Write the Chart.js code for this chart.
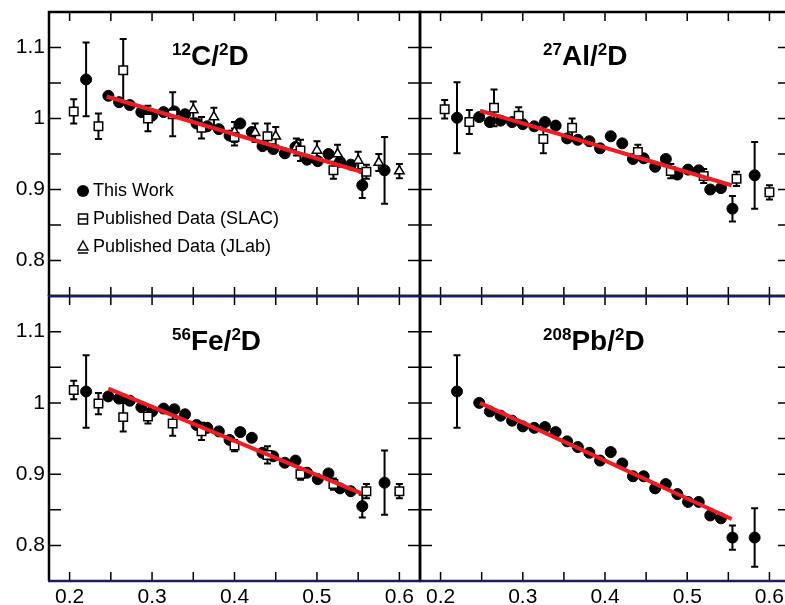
<!DOCTYPE html>
<html>
<head>
<meta charset="utf-8">
<script src="https://cdn.jsdelivr.net/npm/chart.js@4"></script>
<style>
  html, body { margin: 0; background: #fff; }
  #wrap { position: relative; width: 785px; height: 605px; overflow: hidden; }
  #wrap canvas { position: absolute; left: 0; top: 0; }
  .title {
    position: absolute;
    font-family: "Liberation Sans", Arial, Helvetica, sans-serif;
    font-weight: bold;
    font-size: 28px;
    line-height: 28px;
    color: #000;
    white-space: nowrap;
  }
  .title sup { font-size: 17px; line-height: 0; vertical-align: 0; position: relative; top: -10px; }
</style>
</head>
<body>
<div id="wrap">
  <canvas id="ironChart" width="800" height="605"></canvas>
  <canvas id="leadChart" width="800" height="605"></canvas>
  <canvas id="carbonChart" width="800" height="605"></canvas>
  <canvas id="alChart" width="800" height="605"></canvas>
  <div class="title" style="left:172px;top:42px"><sup>12</sup>C/<sup>2</sup>D</div>
  <div class="title" style="left:543px;top:42px"><sup>27</sup>Al/<sup>2</sup>D</div>
  <div class="title" style="left:172px;top:327px"><sup>56</sup>Fe/<sup>2</sup>D</div>
  <div class="title" style="left:543px;top:327px"><sup>208</sup>Pb/<sup>2</sup>D</div>
</div>
<script>
// axis ticks
const xTicks = [0.2, 0.3, 0.4, 0.5, 0.6];
const yTicks = [0.8, 0.9, 1, 1.1];
const xMarks = [0.2, 0.25, 0.3, 0.35, 0.4, 0.45, 0.5, 0.55, 0.6];
const yMarks = [0.8, 0.85, 0.9, 0.95, 1, 1.05, 1.1];

// this work, same x bins for all nuclei
const workX = [0.220, 0.247, 0.260, 0.273, 0.287, 0.300, 0.314, 0.327, 0.340, 0.354, 0.367, 0.381, 0.394,
               0.407, 0.421, 0.434, 0.447, 0.461, 0.474, 0.488, 0.501, 0.514, 0.528, 0.541, 0.555, 0.582];
const carbonWork = [1.055, 1.032, 1.023, 1.019, 1.009, 1.004, 1.009, 1.010, 1.006, 0.993, 0.989, 0.985, 0.976,
                    0.993, 0.981, 0.961, 0.957, 0.951, 0.960, 0.942, 0.940, 0.950, 0.939, 0.935, 0.906, 0.927];
const carbonWorkErr = [0.052, 0, 0, 0, 0, 0, 0, 0, 0, 0, 0, 0, 0, 0, 0, 0, 0, 0, 0, 0, 0, 0, 0, 0, 0.018, 0.047];
const alWork = [1.001, 1.002, 0.995, 0.997, 0.995, 0.992, 0.989, 0.995, 0.990, 0.972, 0.970, 0.968, 0.958,
                0.975, 0.965, 0.943, 0.944, 0.932, 0.943, 0.921, 0.928, 0.927, 0.900, 0.902, 0.873, 0.920];
const alWorkErr = [0.050, 0, 0, 0, 0, 0, 0, 0, 0, 0, 0, 0, 0, 0, 0, 0, 0, 0, 0, 0, 0, 0, 0, 0, 0.018, 0.047];
const ironWork = [1.016, 1.009, 1.006, 1.003, 0.994, 0.988, 0.992, 0.991, 0.984, 0.969, 0.965, 0.960, 0.948,
                  0.959, 0.951, 0.930, 0.925, 0.916, 0.919, 0.902, 0.893, 0.901, 0.880, 0.876, 0.855, 0.888];
const ironWorkErr = [0.051, 0, 0, 0, 0, 0, 0, 0, 0, 0, 0, 0, 0, 0, 0, 0, 0, 0, 0, 0, 0, 0, 0, 0, 0.016, 0.045];
const leadWork = [1.016, 1.000, 0.988, 0.982, 0.975, 0.967, 0.965, 0.966, 0.959, 0.946, 0.938, 0.930, 0.919,
                  0.931, 0.915, 0.897, 0.897, 0.880, 0.886, 0.872, 0.861, 0.861, 0.842, 0.838, 0.811, 0.811];
const leadWorkErr = [0.051, 0, 0, 0, 0, 0, 0, 0, 0, 0, 0, 0, 0, 0, 0, 0, 0, 0, 0, 0, 0, 0, 0, 0, 0.017, 0.041];

// published SLAC
const slacX = [0.205, 0.235, 0.265, 0.295, 0.325, 0.36, 0.40, 0.44, 0.48, 0.52, 0.56, 0.60];
const carbonSlac = [1.010, 0.989, 1.068, 1.000, 1.006, 0.987, 0.974, 0.975, 0.955, 0.927, 0.925, null];
const carbonSlacErr = [0.017, 0.018, 0.044, 0.018, 0.031, 0.015, 0.012, 0.018, 0.015, 0.012, 0.010, 0];
const alSlac = [1.013, 0.995, 1.015, 1.004, 0.971, 0.987, null, 0.953, 0.926, 0.919, 0.915, 0.896];
const alSlacErr = [0.013, 0.017, 0.026, 0.012, 0.020, 0.013, 0, 0.010, 0.010, 0.010, 0.010, 0.010];
const ironSlac = [1.018, 0.999, 0.980, 0.981, 0.971, 0.960, 0.940, 0.927, 0.900, 0.886, 0.876, 0.876];
const ironSlacErr = [0.013, 0.015, 0.020, 0.010, 0.017, 0.012, 0.008, 0.012, 0.008, 0.008, 0.010, 0.010];

// published JLab (carbon only)
const jlabX = [0.35, 0.375, 0.40, 0.425, 0.45, 0.475, 0.50, 0.525, 0.55, 0.575, 0.60];
const carbonJlab = [1.012, 1.002, 0.981, 0.980, 0.975, 0.960, 0.955, 0.950, 0.941, 0.938, 0.926];
const carbonJlabErr = [0.012, 0.013, 0.014, 0.013, 0.013, 0.012, 0.013, 0.013, 0.012, 0.012, 0.010];

// linear fits
const carbonFitX = [0.245, 0.554], carbonFitY = [1.031, 0.925];
const alFitX = [0.248, 0.554], alFitY = [1.011, 0.906];
const ironFitX = [0.247, 0.554], ironFitY = [1.020, 0.873];
const leadFitX = [0.248, 0.554], leadFitY = [1.000, 0.837];

const RED = '#ee1c24';
const NAVY = '#1b1b5e';

Chart.defaults.font.family = '"Liberation Sans", Arial, Helvetica, sans-serif';
Chart.defaults.color = '#000';

function pts(xs, ys) {
    return xs.map((x, i) => ({x: x, y: ys[i]}));
}

// vertical error bars with caps, drawn under the markers
const errorBars = {
    id: 'errorBars',
    beforeDatasetsDraw(chart) {
        const {ctx, chartArea: a, scales: {x, y}} = chart;
        ctx.save();
        ctx.beginPath();
        ctx.rect(a.left, a.top, a.right - a.left, a.bottom - a.top);
        ctx.clip();
        ctx.strokeStyle = '#000';
        ctx.lineWidth = 2;
        chart.data.datasets.forEach(ds => {
            if (!ds.errors) return;
            ds.data.forEach((p, i) => {
                const e = ds.errors[i];
                if (p.y == null || !e) return;
                const px = x.getPixelForValue(p.x);
                const top = y.getPixelForValue(p.y + e);
                const bot = y.getPixelForValue(p.y - e);
                ctx.beginPath();
                ctx.moveTo(px, top); ctx.lineTo(px, bot);
                ctx.moveTo(px - 3.5, top); ctx.lineTo(px + 3.5, top);
                ctx.moveTo(px - 3.5, bot); ctx.lineTo(px + 3.5, bot);
                ctx.stroke();
            });
        });
        ctx.restore();
    }
};

// frame with inward ticks on all four sides
const frame = {
    id: 'frame',
    afterDraw(chart) {
        const {ctx, chartArea: a, scales: {x, y}} = chart;
        ctx.save();
        ctx.strokeStyle = '#000';
        ctx.lineWidth = 1.5;
        ctx.beginPath();
        xMarks.forEach(v => {
            const px = x.getPixelForValue(v);
            ctx.moveTo(px, a.top); ctx.lineTo(px, a.top + 9);
            ctx.moveTo(px, a.bottom); ctx.lineTo(px, a.bottom - 9);
        });
        yMarks.forEach(v => {
            const py = y.getPixelForValue(v);
            ctx.moveTo(a.left, py); ctx.lineTo(a.left + 12, py);
            ctx.moveTo(a.right, py); ctx.lineTo(a.right - 12, py);
        });
        ctx.stroke();
        ctx.lineWidth = 2.5;
        ctx.beginPath();
        ctx.moveTo(a.left, a.bottom);
        ctx.lineTo(a.left, a.top);
        ctx.lineTo(a.right, a.top);
        ctx.lineTo(a.right, a.bottom);
        ctx.stroke();
        ctx.strokeStyle = NAVY;
        ctx.beginPath();
        ctx.moveTo(a.left - 1, a.bottom);
        ctx.lineTo(a.right + 1, a.bottom);
        ctx.stroke();
        ctx.restore();
    }
};

// legend inside the carbon panel
const legendBox = {
    id: 'legendBox',
    afterDraw(chart) {
        const {ctx} = chart;
        const mx = 83, tx = 93;
        const rows = [191, 219, 247];
        ctx.save();
        ctx.fillStyle = '#000';
        ctx.strokeStyle = '#000';
        ctx.lineWidth = 1.5;
        // circle
        ctx.beginPath();
        ctx.arc(mx, rows[0], 6, 0, Math.PI * 2);
        ctx.fill();
        // square with bar
        ctx.fillStyle = '#fff';
        ctx.fillRect(mx - 4.5, rows[1] - 5, 9, 10);
        ctx.strokeRect(mx - 4.5, rows[1] - 5, 9, 10);
        ctx.beginPath();
        ctx.moveTo(mx - 4.5, rows[1]); ctx.lineTo(mx + 4.5, rows[1]);
        ctx.stroke();
        // triangle with bar
        ctx.beginPath();
        ctx.moveTo(mx, rows[2] - 6);
        ctx.lineTo(mx + 5, rows[2] + 3);
        ctx.lineTo(mx - 5, rows[2] + 3);
        ctx.closePath();
        ctx.fill();
        ctx.stroke();
        ctx.beginPath();
        ctx.moveTo(mx - 5, rows[2] + 6); ctx.lineTo(mx + 5, rows[2] + 6);
        ctx.stroke();
        ctx.fillStyle = '#000';
        ctx.font = '18px "Liberation Sans", Arial, Helvetica, sans-serif';
        ctx.textBaseline = 'middle';
        ctx.fillText('This Work', tx, rows[0]);
        ctx.fillText('Published Data (SLAC)', tx, rows[1]);
        ctx.fillText('Published Data (JLab)', tx, rows[2]);
        ctx.restore();
    }
};

function makePanel(canvasId, p) {
    const isLeft = p.col === 0;
    const isBottom = p.row === 1;
    const datasets = [
        {
            type: 'line',
            data: pts(p.fitX, p.fitY),
            borderColor: RED,
            borderWidth: 4,
            pointRadius: 0,
            fill: false
        }
    ];
    if (p.slac) {
        datasets.push({
            data: pts(slacX, p.slac),
            errors: p.slacErr,
            pointStyle: 'rect',
            pointRadius: 6,
            backgroundColor: '#fff',
            borderColor: '#000',
            borderWidth: 1.5
        });
    }
    if (p.jlab) {
        datasets.push({
            data: pts(jlabX, p.jlab),
            errors: p.jlabErr,
            pointStyle: 'triangle',
            pointRadius: 5.5,
            backgroundColor: '#fff',
            borderColor: '#000',
            borderWidth: 1.5
        });
    }
    datasets.push({
        data: pts(workX, p.work),
        errors: p.workErr,
        pointStyle: 'circle',
        pointRadius: 5.5,
        backgroundColor: '#000',
        borderColor: '#000',
        borderWidth: 1
    });

    const plugins = [errorBars, frame];
    if (p.legend) plugins.push(legendBox);

    return new Chart(document.getElementById(canvasId), {
        type: 'scatter',
        data: { datasets: datasets },
        options: {
            responsive: false,
            animation: false,
            events: [],
            layout: {
                padding: {
                    left: isLeft ? 0 : 420,
                    right: isLeft ? 380 : 10,
                    top: isBottom ? 296 : 12,
                    bottom: isBottom ? 0 : 309
                }
            },
            plugins: {
                legend: { display: false },
                tooltip: { enabled: false }
            },
            scales: {
                x: {
                    type: 'linear',
                    min: 0.175,
                    max: 0.625,
                    display: isBottom,
                    grid: { display: false, drawTicks: false },
                    border: { display: false },
                    ticks: {
                        font: { size: 21 },
                        padding: 4,
                        maxRotation: 0,
                        callback: v => String(v)
                    },
                    afterBuildTicks: s => { s.ticks = xTicks.map(v => ({value: v})); },
                    afterFit: s => {
                        s.paddingLeft = 0;
                        s.paddingRight = 0;
                        if (isBottom) s.height = 24;
                    }
                },
                y: {
                    type: 'linear',
                    min: 0.75,
                    max: 1.15,
                    display: isLeft,
                    grid: { display: false, drawTicks: false },
                    border: { display: false },
                    ticks: {
                        font: { size: 21 },
                        padding: 4,
                        callback: v => String(v)
                    },
                    afterBuildTicks: s => { s.ticks = yTicks.map(v => ({value: v})); },
                    afterFit: s => {
                        s.paddingTop = 0;
                        s.paddingBottom = 0;
                        if (isLeft) s.width = 49;
                    }
                }
            }
        },
        plugins: plugins
    });
}

makePanel('ironChart', {
    row: 1, col: 0, work: ironWork, workErr: ironWorkErr,
    slac: ironSlac, slacErr: ironSlacErr, fitX: ironFitX, fitY: ironFitY
});
makePanel('leadChart', {
    row: 1, col: 1, work: leadWork, workErr: leadWorkErr,
    fitX: leadFitX, fitY: leadFitY
});
makePanel('carbonChart', {
    row: 0, col: 0, work: carbonWork, workErr: carbonWorkErr,
    slac: carbonSlac, slacErr: carbonSlacErr, jlab: carbonJlab, jlabErr: carbonJlabErr,
    fitX: carbonFitX, fitY: carbonFitY, legend: true
});
makePanel('alChart', {
    row: 0, col: 1, work: alWork, workErr: alWorkErr,
    slac: alSlac, slacErr: alSlacErr, fitX: alFitX, fitY: alFitY
});
</script>
</body>
</html>
